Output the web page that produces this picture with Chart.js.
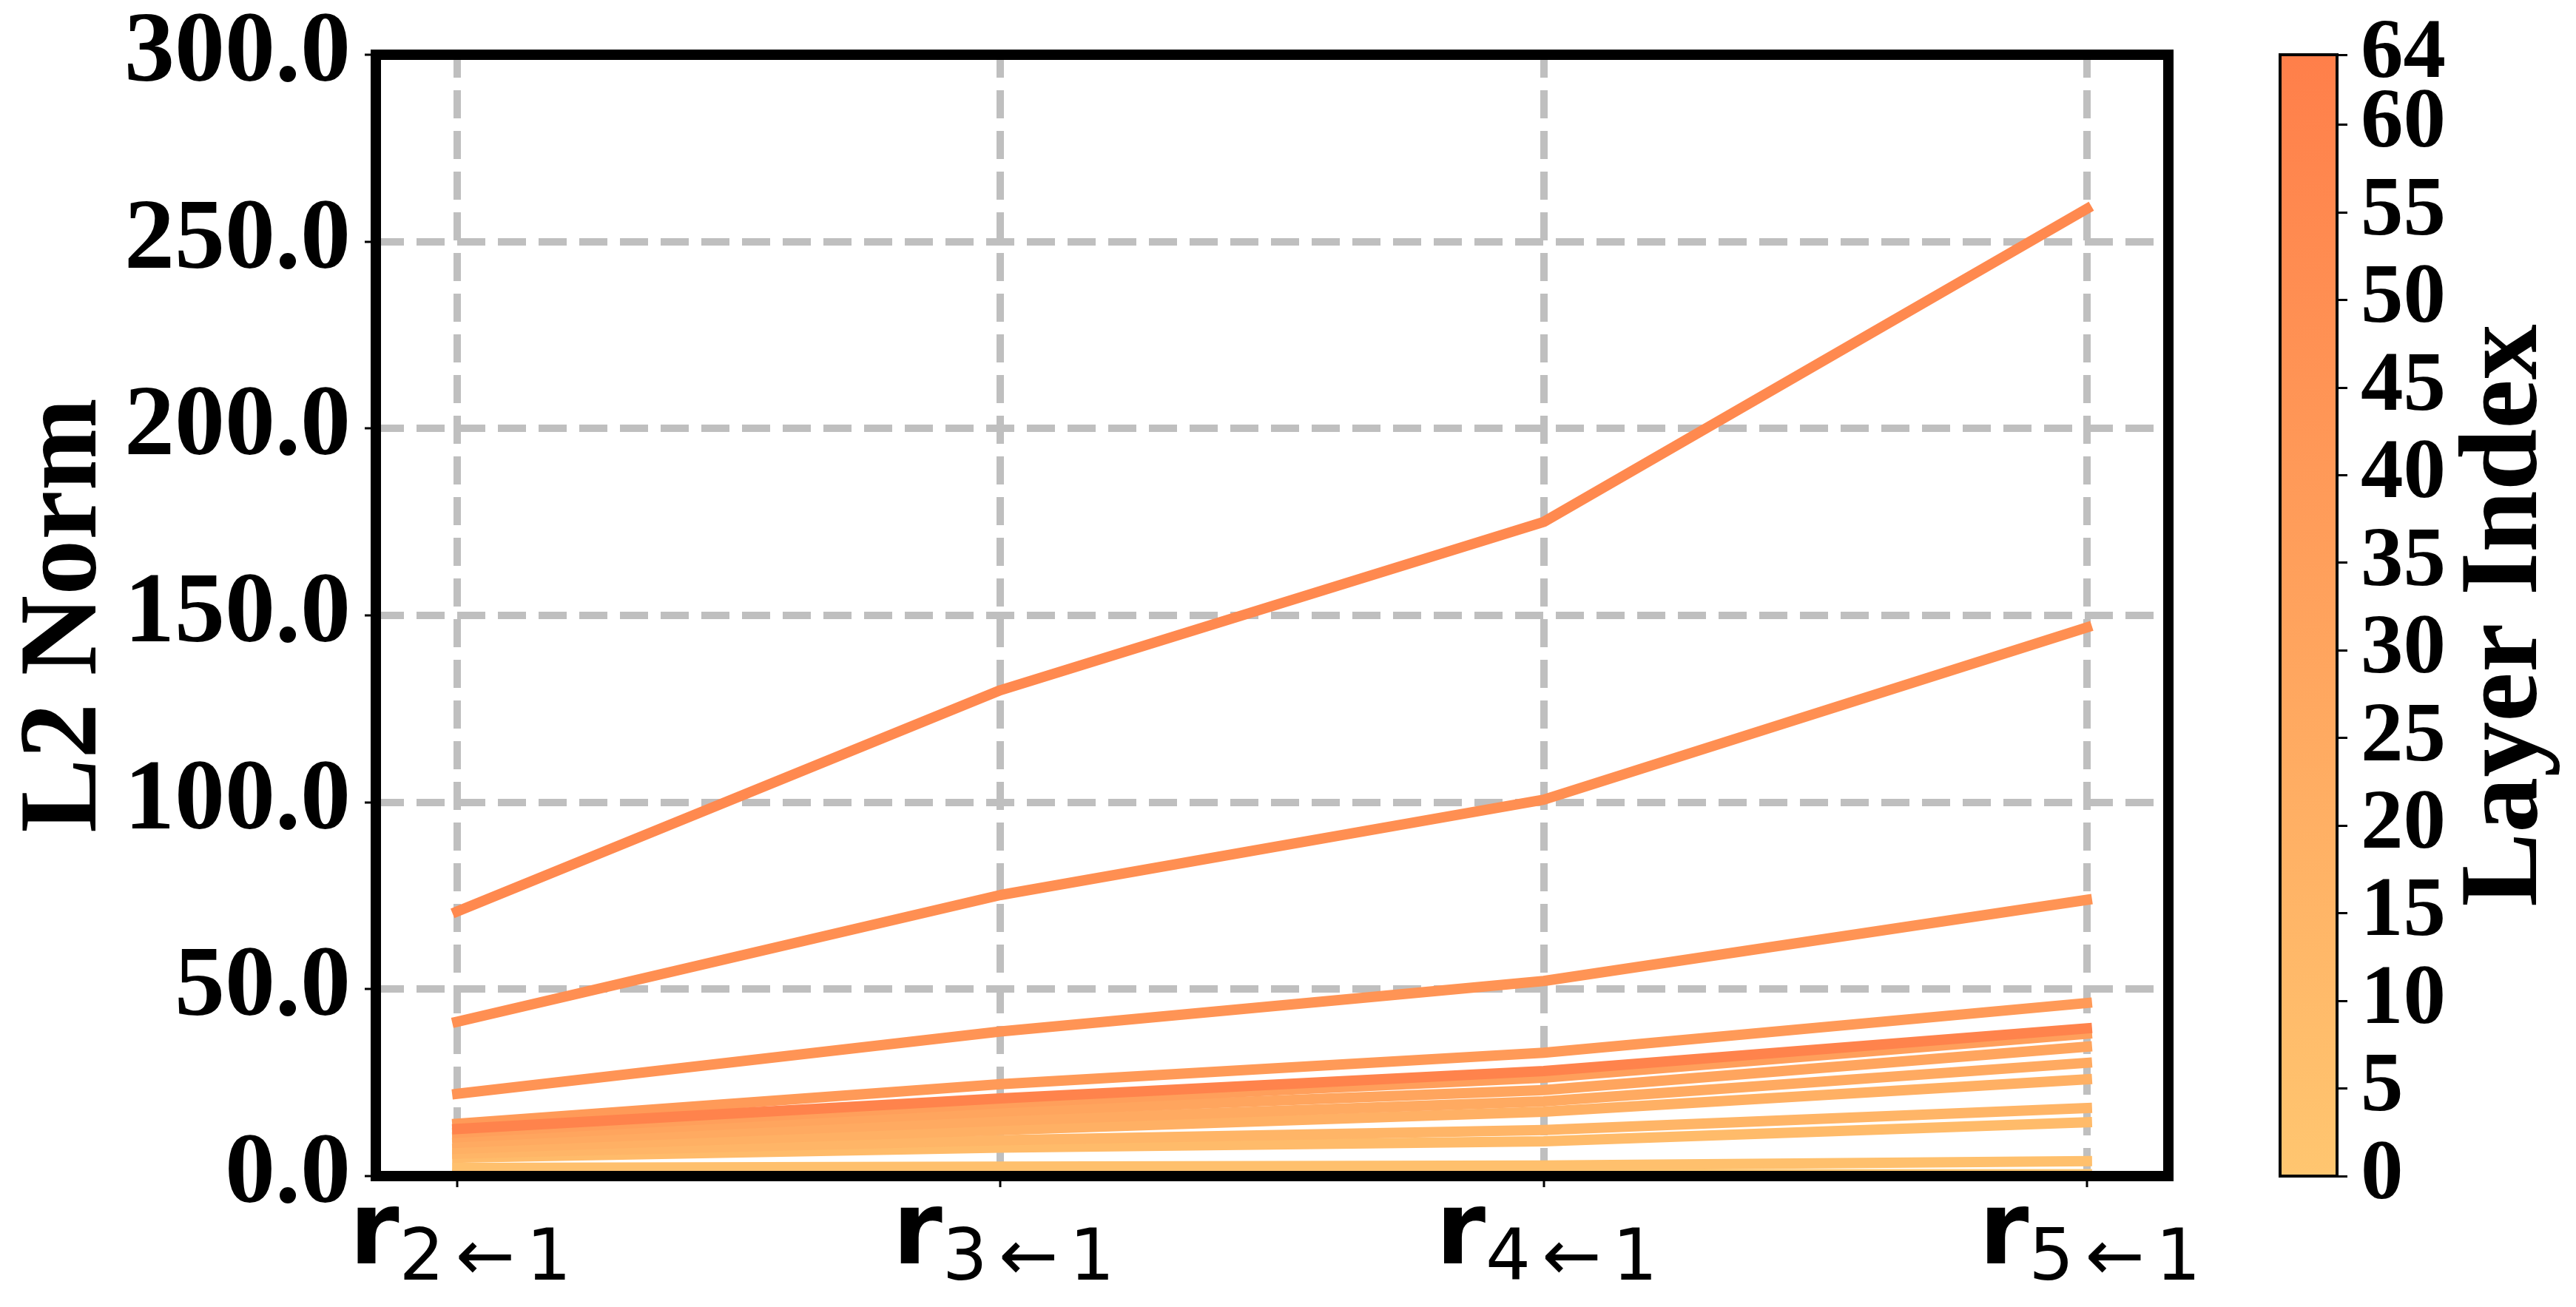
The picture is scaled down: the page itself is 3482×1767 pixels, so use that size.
<!DOCTYPE html>
<html>
<head>
<meta charset="utf-8">
<script src="https://cdn.jsdelivr.net/npm/chart.js@4.4.1/dist/chart.umd.min.js"></script>
<style>
  html, body { margin: 0; padding: 0; background: #fff; }
  #wrap { position: relative; width: 3482px; height: 1767px; }
  #wrap canvas { position: absolute; left: 0; top: 0; }
</style>
</head>
<body>
<div id="wrap">
  <canvas id="main" width="3482" height="1767"></canvas>
  <canvas id="cbar" width="3482" height="1767"></canvas>
</div>
<script>
// x positions: r_{k<-1}, k = 2..5
const steps = ["2", "3", "4", "5"];
const yTicks = [0, 50, 100, 150, 200, 250, 300];
const cbTicks = [0, 5, 10, 15, 20, 25, 30, 35, 40, 45, 50, 55, 60, 64];

// L2 norm per layer
const layerIds = [0, 5, 10, 15, 20, 25, 30, 35, 40, 45, 50, 55, 60];
const layer0 = [0.5, 0.6, 0.5, 0.5];
const layer5 = [2.2, 2.5, 2.8, 4.0];
const layer10 = [4.9, 7.6, 9.3, 14.4];
const layer15 = [6.0, 9.6, 12.3, 18.2];
const layer20 = [7.3, 12.3, 17.2, 25.9];
const layer25 = [8.9, 14.8, 20.0, 30.3];
const layer30 = [10.4, 17.3, 23.0, 34.6];
const layer35 = [11.6, 19.5, 26.3, 38.1];
const layer40 = [14.0, 24.6, 33.0, 46.3];
const layer45 = [22.0, 38.7, 52.2, 73.9];
const layer50 = [41.3, 75.2, 100.7, 146.8];
const layer55 = [70.8, 130.0, 175.0, 258.8];
const layer60 = [12.6, 20.8, 28.1, 39.5];
const layerSeries = [layer0, layer5, layer10, layer15, layer20, layer25, layer30,
  layer35, layer40, layer45, layer50, layer55, layer60];

const SERIF = '"Liberation Serif", "Times New Roman", serif';
const SANS = '"DejaVu Sans", sans-serif';

function layerColor(v) {
  const t = v / 64;
  const lo = [255, 198, 112];
  const hi = [255, 127, 74];
  const c = lo.map((a, i) => Math.round(a + (hi[i] - a) * t));
  return `rgb(${c[0]},${c[1]},${c[2]})`;
}

// black box around the axes, drawn over the lines like matplotlib spines
const framePlugin = {
  id: "frame",
  afterDatasetsDraw(chart, args, opts) {
    const { ctx, chartArea: a } = chart;
    ctx.save();
    ctx.strokeStyle = "#000";
    ctx.lineWidth = opts.width;
    ctx.strokeRect(a.left, a.top, a.right - a.left, a.bottom - a.top);
    ctx.restore();
  },
};

// r_{k<-1} tick labels and the y title
const textPlugin = {
  id: "texts",
  afterDraw(chart) {
    const { ctx, chartArea: a } = chart;
    const xs = chart.scales.x;
    ctx.save();
    ctx.fillStyle = "#000";
    ctx.textBaseline = "alphabetic";
    ctx.textAlign = "left";
    const gap = 15;
    steps.forEach((k, i) => {
      const px = xs.getPixelForValue(i);
      ctx.font = `bold 137px ${SANS}`;
      const wr = ctx.measureText("r").width;
      ctx.font = `96px ${SANS}`;
      const wk = ctx.measureText(k).width;
      const wa = ctx.measureText("\u2190").width;
      const w1 = ctx.measureText("1").width;
      const total = wr + wk + gap + wa + gap + w1;
      let x = px - total / 2 + 4;
      ctx.font = `bold 137px ${SANS}`;
      ctx.fillText("r", x, a.bottom + 118);
      x += wr;
      ctx.font = `96px ${SANS}`;
      ctx.fillText(k, x, a.bottom + 140);
      x += wk + gap;
      ctx.fillText("\u2190", x, a.bottom + 140);
      x += wa + gap;
      ctx.fillText("1", x, a.bottom + 140);
    });
    ctx.translate(129, (a.top + a.bottom) / 2);
    ctx.rotate(-Math.PI / 2);
    ctx.textAlign = "center";
    ctx.font = `bold 150px ${SERIF}`;
    ctx.fillText("L2 Norm", 0, 0);
    ctx.restore();
  },
};

const datasets = layerIds.map((layer, i) => ({
  label: `Layer ${layer}`,
  data: layerSeries[i].map((v, j) => ({ x: j, y: v })),
  borderColor: layerColor(layer),
  borderWidth: 14,
  borderCapStyle: "square",
  borderJoinStyle: "round",
  pointRadius: 0,
  fill: false,
  tension: 0,
  order: 100 - layer,
}));

new Chart(document.getElementById("main"), {
  type: "line",
  data: { datasets },
  options: {
    responsive: false,
    animation: false,
    devicePixelRatio: 1,
    layout: { padding: { left: 0, top: 74, right: 551, bottom: 0 } },
    plugins: { legend: { display: false }, tooltip: { enabled: false }, frame: { width: 14 } },
    scales: {
      x: {
        type: "linear",
        min: -0.15,
        max: 3.15,
        afterBuildTicks: (s) => { s.ticks = steps.map((_, i) => ({ value: i })); },
        afterFit: (s) => { s.height = 177; s.paddingLeft = 0; s.paddingRight = 0; },
        ticks: { display: false },
        grid: { color: "#bfbfbf", lineWidth: 10, drawTicks: true, tickLength: 15, tickColor: "#000", tickWidth: 3 },
        border: { display: false, dash: [38, 17], dashOffset: 7 },
      },
      y: {
        min: 0,
        max: 300,
        afterBuildTicks: (s) => { s.ticks = yTicks.map((v) => ({ value: v })); },
        afterFit: (s) => { s.width = 508; s.paddingTop = 0; s.paddingBottom = 0; },
        ticks: {
          autoSkip: false,
          padding: 19,
          color: "#000",
          font: { family: SERIF, size: 136, weight: "bold", lineHeight: 1 },
          callback: (v) => Number(v).toFixed(1),
        },
        grid: { color: "#bfbfbf", lineWidth: 10, drawTicks: true, tickLength: 15, tickColor: "#000", tickWidth: 3 },
        border: { display: false, dash: [38, 17] },
      },
    },
  },
  plugins: [framePlugin, textPlugin],
});

// colorbar: one floating bar spanning the whole layer range
const cbarPlugin = {
  id: "cbarText",
  afterDatasetsDraw(chart) {
    const { ctx, chartArea: a } = chart;
    ctx.save();
    ctx.strokeStyle = "#000";
    ctx.lineWidth = 4;
    ctx.strokeRect(a.left, a.top, a.right - a.left, a.bottom - a.top);
    ctx.translate(3428, (a.top + a.bottom) / 2);
    ctx.rotate(-Math.PI / 2);
    ctx.fillStyle = "#000";
    ctx.textAlign = "center";
    ctx.textBaseline = "alphabetic";
    ctx.font = `bold 150px ${SERIF}`;
    ctx.fillText("Layer Index", 0, 0);
    ctx.restore();
  },
};

new Chart(document.getElementById("cbar"), {
  type: "bar",
  data: {
    labels: ["layers"],
    datasets: [{
      data: [[cbTicks[0], cbTicks[cbTicks.length - 1]]],
      barPercentage: 1,
      categoryPercentage: 1,
      borderWidth: 0,
      backgroundColor: (c) => {
        const area = c.chart.chartArea;
        if (!area) return layerColor(32);
        const g = c.chart.ctx.createLinearGradient(0, area.bottom, 0, area.top);
        g.addColorStop(0, layerColor(0));
        g.addColorStop(1, layerColor(64));
        return g;
      },
    }],
  },
  options: {
    responsive: false,
    animation: false,
    devicePixelRatio: 1,
    layout: { padding: { left: 3082, top: 74, right: 0, bottom: 177 } },
    plugins: { legend: { display: false }, tooltip: { enabled: false } },
    scales: {
      x: { display: false },
      y: {
        position: "right",
        min: 0,
        max: 64,
        afterBuildTicks: (s) => { s.ticks = cbTicks.map((v) => ({ value: v })); },
        afterFit: (s) => { s.width = 3482 - 3159; s.paddingTop = 0; s.paddingBottom = 0; },
        ticks: {
          autoSkip: false,
          padding: 18,
          color: "#000",
          font: { family: SERIF, size: 115, weight: "bold", lineHeight: 1 },
        },
        grid: { drawOnChartArea: false, drawTicks: true, tickLength: 14, tickColor: "#000", tickWidth: 3 },
        border: { display: false },
      },
    },
  },
  plugins: [cbarPlugin],
});
</script>
</body>
</html>
